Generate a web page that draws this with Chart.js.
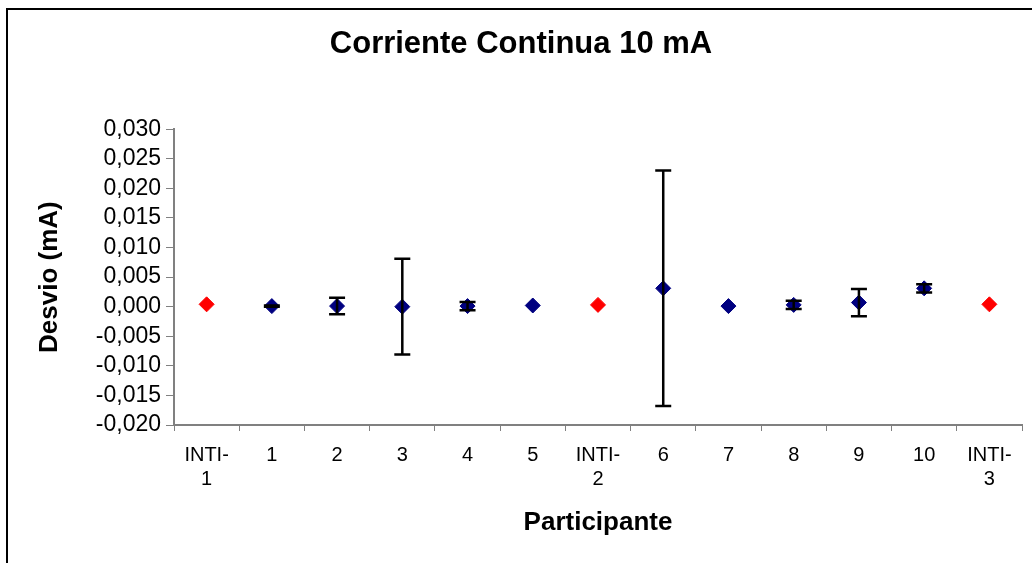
<!DOCTYPE html>
<html>
<head>
<meta charset="utf-8">
<script src="https://cdn.jsdelivr.net/npm/chart.js@4"></script>
<style>
  html, body { margin: 0; padding: 0; background: #fff; }
  #wrap { position: relative; width: 1032px; height: 563px; }
</style>
</head>
<body>
<div id="wrap"><canvas id="grafico" width="1032" height="563"></canvas></div>
<script>
// Datos (desvío e incertidumbre en mA)
const participantes = ['INTI-1', '1', '2', '3', '4', '5', 'INTI-2', '6', '7', '8', '9', '10', 'INTI-3'];
const desvios = [0.0004, 0.0001, 0.0001, 0.0000, 0.0001, 0.0002, 0.0003, 0.0031, 0.0001, 0.0003, 0.0007, 0.0031, 0.0004];
const incertidumbres = [0, 0.0001, 0.0014, 0.0081, 0.0007, 0, 0, 0.0199, 0, 0.0007, 0.0023, 0.0007, 0];
const escalaY = { min: -0.020, max: 0.030, paso: 0.005 };

// Los laboratorios de referencia (INTI) van en rojo
const colores = participantes.map(p => p.startsWith('INTI') ? '#FF0000' : '#000080');

// Marco negro del área del gráfico (sale de la imagen a derecha y abajo)
const marco = {
  id: 'marco',
  beforeDraw(chart) {
    const ctx = chart.ctx;
    ctx.save();
    ctx.strokeStyle = '#000';
    ctx.lineWidth = 2;
    ctx.beginPath();
    ctx.moveTo(7, 563);
    ctx.lineTo(7, 9);
    ctx.lineTo(1032, 9);
    ctx.stroke();
    ctx.restore();
  }
};

// Barras de error verticales con topes
const barrasError = {
  id: 'barrasError',
  afterDatasetsDraw(chart) {
    const ctx = chart.ctx;
    const x = chart.scales.x;
    const y = chart.scales.y;
    ctx.save();
    ctx.strokeStyle = '#000';
    ctx.lineWidth = 2.5;
    desvios.forEach((v, i) => {
      const e = incertidumbres[i];
      if (!e) return;
      const px = x.getPixelForValue(i);
      const arriba = y.getPixelForValue(v + e);
      const abajo = y.getPixelForValue(v - e);
      ctx.beginPath();
      ctx.moveTo(px, arriba);
      ctx.lineTo(px, abajo);
      ctx.moveTo(px - 8, arriba);
      ctx.lineTo(px + 8, arriba);
      ctx.moveTo(px - 8, abajo);
      ctx.lineTo(px + 8, abajo);
      ctx.stroke();
    });
    ctx.restore();
  }
};

const ctx = document.getElementById('grafico').getContext('2d');
new Chart(ctx, {
  type: 'line',
  data: {
    labels: participantes,
    datasets: [{
      data: desvios,
      showLine: false,
      pointStyle: 'rectRot',
      pointRadius: 7.5,
      pointBorderWidth: 1,
      pointBackgroundColor: colores,
      pointBorderColor: colores
    }]
  },
  options: {
    responsive: false,
    animation: false,
    layout: { padding: { left: 20, right: 10, top: 0, bottom: 0 } },
    plugins: {
      legend: { display: false },
      tooltip: { enabled: false },
      title: {
        display: true,
        text: 'Corriente Continua 10 mA',
        color: '#000',
        font: { family: 'Liberation Sans', size: 31, weight: 'bold' },
        padding: { top: 26, bottom: 66 }
      }
    },
    scales: {
      x: {
        offset: true,
        grid: { offset: true, drawOnChartArea: false, drawTicks: true, tickLength: 6, color: '#808080', lineWidth: 1 },
        border: { display: true, color: '#808080', width: 2 },
        ticks: {
          color: '#000',
          font: { family: 'Liberation Sans', size: 20, lineHeight: 1.2 },
          padding: 12,
          maxRotation: 0,
          autoSkip: false,
          callback: function (valor) {
            const etiqueta = this.getLabelForValue(valor);
            return etiqueta.startsWith('INTI-') ? ['INTI-', etiqueta.slice(5)] : etiqueta;
          }
        },
        title: {
          display: true,
          text: 'Participante',
          color: '#000',
          font: { family: 'Liberation Sans', size: 26, weight: 'bold' },
          padding: { top: 0, bottom: 25 }
        },
        afterFit: function (escala) { escala.height = 138; }
      },
      y: {
        min: escalaY.min,
        max: escalaY.max,
        grid: { drawOnChartArea: false, drawTicks: true, tickLength: 8, color: '#808080', lineWidth: 1 },
        border: { display: true, color: '#808080', width: 2 },
        ticks: {
          stepSize: escalaY.paso,
          maxTicksLimit: 11,
          autoSkip: false,
          color: '#000',
          font: { family: 'Liberation Sans', size: 23, lineHeight: 1 },
          padding: 5,
          callback: valor => valor.toFixed(3).replace('.', ',')
        },
        title: {
          display: true,
          text: 'Desvio (mA)',
          color: '#000',
          font: { family: 'Liberation Sans', size: 26, weight: 'bold' },
          padding: { top: 14, bottom: 0 }
        },
        afterFit: function (escala) { escala.width = 154; }
      }
    }
  },
  plugins: [marco, barrasError]
});
</script>
</body>
</html>
